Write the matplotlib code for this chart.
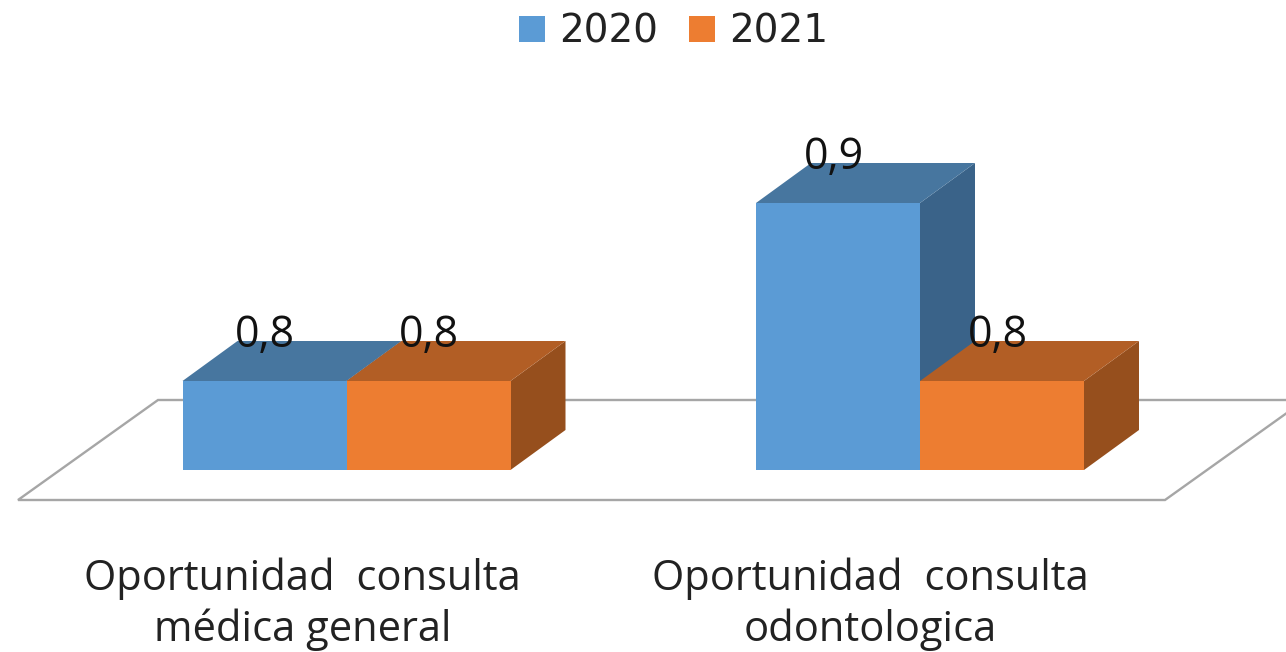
import matplotlib
matplotlib.use("Agg")
import matplotlib.pyplot as plt
from matplotlib.patches import Polygon, Patch

categories = ["Oportunidad  consulta\nmédica general", "Oportunidad  consulta\nodontologica"]
series_names = ["2020", "2021"]
values_2020 = [0.8, 0.9]
values_2021 = [0.8, 0.8]
value_labels_2020 = ["0,8", "0,9"]
value_labels_2021 = ["0,8", "0,8"]

W, H = 1286, 652
PX_X = 1 / 573.5        # category units per pixel
PX_Y = 0.1 / 178        # value units per pixel
BASE = 0.75
BAR_W = 164 * PX_X
DX, DY = 55 * PX_X, 40 * PX_Y
CAT_SHIFT = [-44, -50]   # category label offsets, pixels
VAL_SHIFT = [0, -4]      # value label offsets, pixels

FRONT = {"2020": "#5B9BD5", "2021": "#ED7D31"}
TOP = {"2020": "#47769F", "2021": "#B25E25"}
SIDE = {"2020": "#3A6389", "2021": "#964F1D"}

plt.rcParams["font.family"] = ["Open Sans", "DejaVu Sans"]
fig = plt.figure(figsize=(W / 100, H / 100), dpi=100)
ax = fig.add_axes([0, 0, 1, 1])
ax.set_xlim(-346.5 * PX_X, (W - 346.5) * PX_X)
ax.set_ylim(0.8 - (652 - 381) * PX_Y, 0.8 + 381 * PX_Y)
ax.axis("off")

# Floor of the 3D plot
fl, fr = -328.5 * PX_X, 818.5 * PX_X
fb, bb = BASE - 30 * PX_Y, BASE + 70 * PX_Y
ax.add_patch(Polygon([(fl, fb), (fr, fb), (fr + 140 * PX_X, bb), (fl + 140 * PX_X, bb)],
                     closed=True, fc="white", ec="#A6A6A6", lw=1.7, zorder=1))


def bar3d(x0, v, name, z):
    x1 = x0 + BAR_W
    ax.add_patch(Polygon([(x1, BASE), (x1 + DX, BASE + DY), (x1 + DX, v + DY), (x1, v)],
                         closed=True, fc=SIDE[name], ec="none", zorder=z))
    ax.add_patch(Polygon([(x0, v), (x1, v), (x1 + DX, v + DY), (x0 + DX, v + DY)],
                         closed=True, fc=TOP[name], ec="none", zorder=z))
    ax.add_patch(Polygon([(x0, BASE), (x1, BASE), (x1, v), (x0, v)],
                         closed=True, fc=FRONT[name], ec="none", zorder=z + 0.1))


for i, cat in enumerate(categories):
    bar3d(i - BAR_W, values_2020[i], "2020", 2)
    bar3d(i, values_2021[i], "2021", 3)
    ax.text(i - BAR_W / 2 + VAL_SHIFT[i] * PX_X, values_2020[i] + 45 * PX_Y, value_labels_2020[i],
            ha="center", va="center", fontsize=31, color="#111111", zorder=5)
    ax.text(i + BAR_W / 2 + VAL_SHIFT[i] * PX_X, values_2021[i] + 45 * PX_Y, value_labels_2021[i],
            ha="center", va="center", fontsize=31, color="#111111", zorder=5)
    ax.text(i + CAT_SHIFT[i] * PX_X, BASE - 134.5 * PX_Y, cat, ha="center", va="center",
            fontsize=30, color="#222222", linespacing=1.27, zorder=5)

handles = [Patch(fc=FRONT[n], ec="none", label=n) for n in series_names]
leg = fig.legend(handles=handles, loc="upper center", bbox_to_anchor=(0.524, 1.034), ncol=2,
                 frameon=False, handlelength=0.67, handleheight=0.67,
                 handletextpad=0.36, columnspacing=0.8, prop={"family": "DejaVu Sans", "size": 28})
for t in leg.get_texts():
    t.set_color("#222222")

fig.savefig("out.png", dpi=100)
